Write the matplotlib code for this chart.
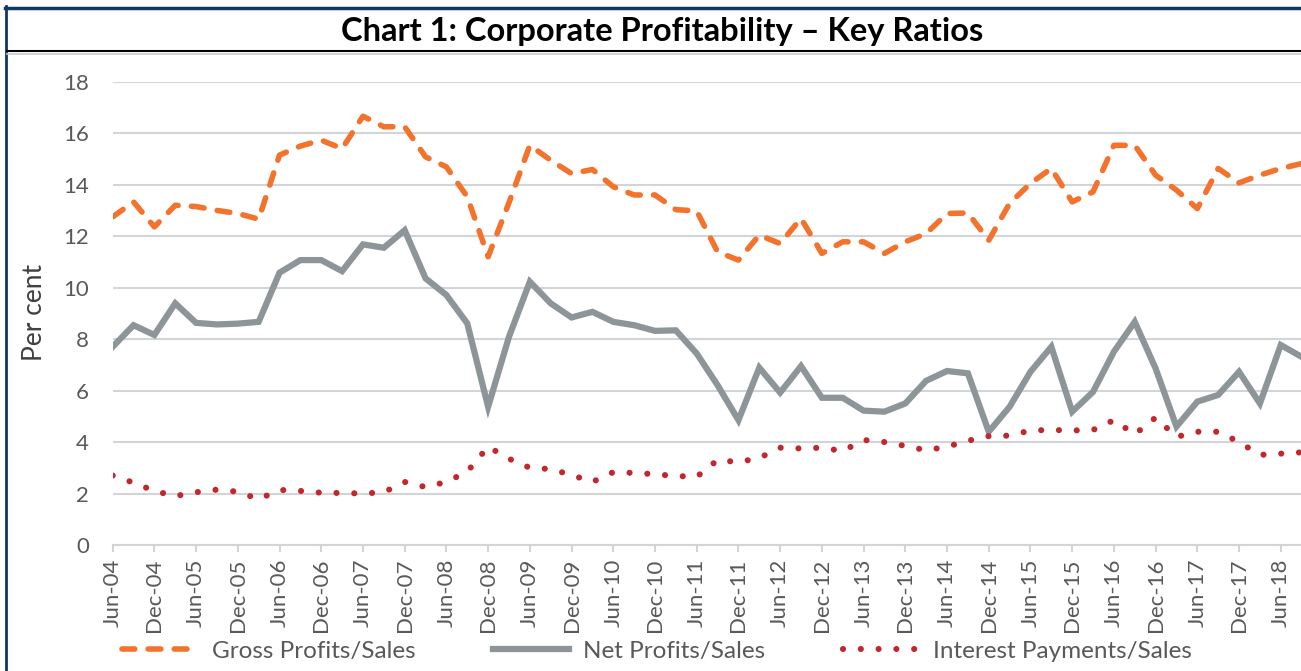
import matplotlib.pyplot as plt
from matplotlib.lines import Line2D

# quarterly ratios, Jun-04 .. Sep-18 (per cent)
gross_profits = [12.75, 13.33, 12.36, 13.2, 13.15, 13.0, 12.88, 12.66, 15.15, 15.5,
                 15.73, 15.4, 16.66, 16.25, 16.25, 15.08, 14.69, 13.53, 11.2, 13.3,
                 15.53, 14.95, 14.43, 14.59, 13.92, 13.6, 13.6, 13.03, 12.98, 11.39,
                 11.07, 12.04, 11.71, 12.69, 11.33, 11.78, 11.78, 11.33, 11.78, 12.1,
                 12.88, 12.9, 11.84, 13.27, 14.05, 14.63, 13.33, 13.72, 15.53, 15.53,
                 14.37, 13.79, 13.07, 14.63, 14.07, 14.37, 14.63, 14.82]
net_profits = [7.7, 8.54, 8.16, 9.39, 8.63, 8.57, 8.6, 8.67, 10.58, 11.07,
               11.07, 10.64, 11.68, 11.55, 12.23, 10.36, 9.71, 8.61, 5.37, 8.09,
               10.23, 9.39, 8.84, 9.06, 8.67, 8.54, 8.32, 8.34, 7.44, 6.21,
               4.85, 6.89, 5.92, 6.95, 5.72, 5.72, 5.22, 5.18, 5.5, 6.38,
               6.76, 6.67, 4.4, 5.37, 6.73, 7.7, 5.18, 5.95, 7.51, 8.67,
               6.86, 4.6, 5.57, 5.83, 6.73, 5.5, 7.77, 7.31]
interest_payments = [2.7, 2.42, 2.1, 1.9, 2.05, 2.15, 2.07, 1.78, 2.14, 2.1,
                     2.03, 2.02, 2.0, 2.05, 2.45, 2.25, 2.45, 2.85, 3.82, 3.35,
                     3.0, 2.95, 2.72, 2.45, 2.83, 2.8, 2.75, 2.68, 2.65, 3.3,
                     3.22, 3.38, 3.78, 3.75, 3.78, 3.65, 4.08, 4.0, 3.85, 3.68,
                     3.82, 4.05, 4.23, 4.25, 4.45, 4.47, 4.45, 4.47, 4.85, 4.3,
                     4.95, 4.2, 4.4, 4.4, 4.0, 3.5, 3.55, 3.6]

years = ["04", "05", "06", "07", "08", "09", "10", "11", "12", "13", "14", "15", "16", "17", "18"]
tick_labels = [f"{m}-{y}" for y in years for m in ("Jun", "Dec")][:-1]

ORANGE = "#F4732C"
GREY = "#8E9599"
RED = "#C1272D"
GRID = "#D2D5D8"
TEXT = "#595959"

plt.rcParams["font.family"] = ["Lato", "DejaVu Sans"]

fig = plt.figure(figsize=(13.01, 6.71), dpi=100)
ax = fig.add_axes([0.0866, 0.1878, 0.9134, 0.6904])

x = list(range(len(gross_profits)))
ax.plot(x, gross_profits, color=ORANGE, lw=4, linestyle=(0, (2.3, 2.4)),
        dash_capstyle="round", label="Gross Profits/Sales", zorder=3)
ax.plot(x, net_profits, color=GREY, lw=4.5, solid_joinstyle="miter",
        label="Net Profits/Sales", zorder=3)
ax.plot(x, interest_payments, color=RED, lw=4.4, linestyle=(0, (0.01, 2.9)),
        dash_capstyle="round", label="Interest Payments/Sales", zorder=3)

ax.set_xlim(0, 56.97)
ax.set_ylim(0, 18)
ax.set_yticks(range(0, 19, 2))
ax.set_xticks(range(0, 57, 2))
ax.set_xticklabels(tick_labels, rotation=90)
ax.grid(axis="y", color=GRID, lw=1.5)
ax.set_axisbelow(True)
for side in ("top", "right", "left"):
    ax.spines[side].set_visible(False)
ax.spines["bottom"].set_color(GRID)
ax.spines["bottom"].set_linewidth(1.5)
ax.tick_params(axis="y", length=0, pad=17, labelsize=16, labelcolor=TEXT)
ax.tick_params(axis="x", length=5, width=1.5, color=GRID, pad=5,
               labelsize=16, labelcolor=TEXT)

fig.text(35 / 1301, 1 - 312 / 671, "Per cent", rotation=90, ha="center",
         va="center", fontsize=19, color="#404040")

fig.text(662 / 1301, 1 - 32 / 671, "Chart 1: Corporate Profitability \u2013 Key Ratios",
         ha="center", va="center", fontsize=23.5, fontweight="bold", color="black")

fig.legend(loc="center", bbox_to_anchor=(657 / 1301, 1 - 651 / 671), ncol=3,
           frameon=False, fontsize=17.5, labelcolor=TEXT, handlelength=3.1,
           handletextpad=0.6, columnspacing=3.2)

# frame decoration
fig.add_artist(Line2D([5 / 1301, 1], [1 - 7.5 / 671] * 2, color="#0E3A62", lw=2.5))
fig.add_artist(Line2D([6 / 1301] * 2, [0, 1 - 6 / 671], color="#0E3A62", lw=2))
fig.add_artist(Line2D([7 / 1301, 1], [1 - 51 / 671] * 2, color="black", lw=1.5))
fig.add_artist(Line2D([7 / 1301, 1], [1 - 53.5 / 671] * 2, color="#C8CBCE", lw=1.2))

fig.savefig("out.png", dpi=100)
